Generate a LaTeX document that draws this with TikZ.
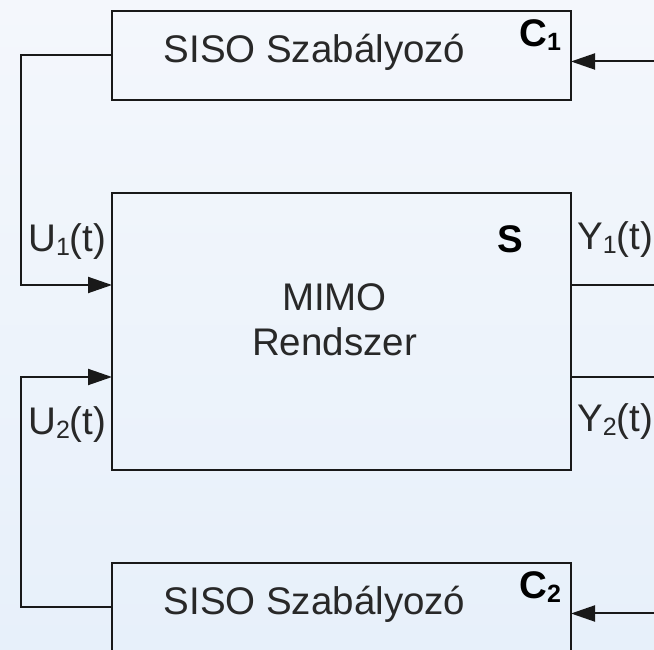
\documentclass[tikz,border=0pt]{standalone}
\usepackage{fontspec}
\setmainfont{Liberation Sans}
\usetikzlibrary{arrows.meta, positioning}

\definecolor{hatterfent}{RGB}{244,247,252}
\definecolor{hatterlent}{RGB}{231,240,250}
\definecolor{szoveg}{RGB}{40,40,40}

\newcommand{\als}[1]{\raisebox{-0.08em}{\fontsize{25}{25}\selectfont #1}}

\tikzset{
    blokk/.style={draw=black!90, line width=2pt, outer sep=0pt, minimum width=459pt},
    felirat/.style={inner sep=0pt, text=szoveg, font=\fontsize{38.5}{45}\selectfont},
    jel/.style={felirat, anchor=base west},
    nev/.style={inner sep=0pt, font=\fontsize{38.5}{45}\selectfont\bfseries, anchor=base west},
    vonal/.style={line width=2pt, black!90},
    nyil/.style={vonal, -{Triangle[length=24pt, width=16pt]}}
}

\begin{document}
\begin{tikzpicture}[x=1pt, y=1pt]
    \useasboundingbox (0,0) rectangle (654,650);
    \shade[top color=hatterfent, bottom color=hatterlent] (0,0) rectangle (654,650);

    \node[blokk, minimum height=277pt] (S) at (341.5,318.5) {};
    \node[blokk, minimum height=89pt, above=93pt of S] (C1) {};
    \node[blokk, minimum height=89pt, below=93pt of S] (C2) {};

    \node[felirat, anchor=base] (C1szoveg) at ([xshift=-27pt, yshift=-7.5pt]C1.center) {SISO Szabályozó};
    \node[felirat, anchor=base] (C2szoveg) at ([xshift=-27pt, yshift=-7.5pt]C2.center) {SISO Szabályozó};
    \node[felirat, align=center] (Sszoveg) at ([xshift=-7pt, yshift=12pt]S.center) {MIMO\\Rendszer};

    \node[nev] (C1nev) at ([xshift=-52pt, yshift=-36pt]C1.north east) {C\als{1}};
    \node[nev] (C2nev) at ([xshift=-52pt, yshift=-36pt]C2.north east) {C\als{2}};
    \node[nev] (Snev) at ([xshift=-74pt, yshift=-60pt]S.north east) {S};

    \node[jel] (U1) at ([xshift=-84pt, yshift=-59pt]S.north west) {U\als{1}(t)};
    \node[jel] (U2) at ([xshift=-84pt, yshift=35pt]S.south west) {U\als{2}(t)};
    \node[jel] (Y1) at ([xshift=6pt, yshift=-57pt]S.north east) {Y\als{1}(t)};
    \node[jel] (Y2) at ([xshift=6pt, yshift=38pt]S.south east) {Y\als{2}(t)};

    \coordinate (bal) at (21,0);
    \coordinate (jobb) at (670,0);
    \coordinate (U1be) at ([yshift=-92pt]S.north west);
    \coordinate (U2be) at ([yshift=93pt]S.south west);
    \coordinate (Y1ki) at ([yshift=-92pt]S.north east);
    \coordinate (Y2ki) at ([yshift=93pt]S.south east);
    \coordinate (C1be) at ([yshift=-6pt]C1.east);
    \coordinate (C2be) at ([yshift=-6pt]C2.east);

    \draw[nyil] (C1.west) -| (bal |- U1be) -- (U1be);
    \draw[nyil] (C2.west) -| (bal |- U2be) -- (U2be);
    \draw[vonal] (Y1ki) -- (Y1ki -| jobb);
    \draw[vonal] (Y2ki) -- (Y2ki -| jobb);
    \draw[nyil] (C1be -| jobb) -- (C1be);
    \draw[nyil] (C2be -| jobb) -- (C2be);
\end{tikzpicture}
\end{document}
